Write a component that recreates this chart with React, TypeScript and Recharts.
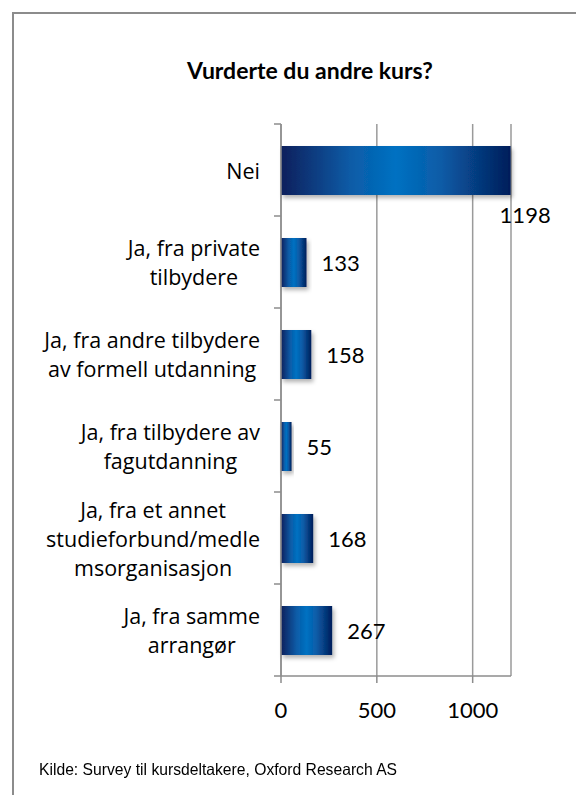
import React from 'react';
import { BarChart, Bar, XAxis, YAxis, CartesianGrid, LabelList } from 'recharts';

// data
const categoryLines: string[][] = [
  ['Nei'],
  ['Ja, fra private', 'tilbydere'],
  ['Ja, fra andre tilbydere', 'av formell utdanning'],
  ['Ja, fra tilbydere av', 'fagutdanning'],
  ['Ja, fra et annet', 'studieforbund/medle', 'msorganisasjon'],
  ['Ja, fra samme', 'arrangør'],
];
const categories = categoryLines.map((l) => l.join(' '));
const values = [1198, 133, 158, 55, 168, 267];
const xTicks = [0, 500, 1000];
const xDomain = [0, 1200];

const data = categories.map((name, i) => ({ name, antall: values[i] }));

const W = 576;
const H = 795;
const PLOT_LEFT = 281;
const PLOT_TOP = 124;
const PLOT_BOTTOM = 676;
const PLOT_RIGHT = 511;
const BAND = (PLOT_BOTTOM - PLOT_TOP) / categories.length;
const FONT = 'Lato, "Open Sans", sans-serif';
const LABEL_FONT = '"Open Sans", Lato, sans-serif';
const LABEL_SIZE = 21.5;

let ctx: CanvasRenderingContext2D | null = null;
function textWidth(s: string, font: string) {
  if (!ctx) ctx = document.createElement('canvas').getContext('2d');
  if (!ctx) return s.length * 10;
  ctx.font = font;
  return ctx.measureText(s).width;
}

function CategoryTick(props: any) {
  const { y, payload } = props;
  const idx = categories.indexOf(payload.value);
  const lines = categoryLines[idx] || [String(payload.value)];
  const maxW = Math.max(...lines.map((l) => textWidth(l, `${LABEL_SIZE}px "Open Sans"`)));
  const cx = PLOT_LEFT - 21 - maxW / 2;
  const lh = 29;
  const top = y - ((lines.length - 1) * lh) / 2;
  return (
    <g>
      <line x1={PLOT_LEFT - 7} x2={PLOT_LEFT} y1={y - BAND / 2} y2={y - BAND / 2} stroke="#8c8c8c" strokeWidth={1.5} />
      {idx === categories.length - 1 && (
        <line x1={PLOT_LEFT - 7} x2={PLOT_LEFT} y1={y + BAND / 2} y2={y + BAND / 2} stroke="#8c8c8c" strokeWidth={1.5} />
      )}
      {lines.map((l, i) => (
        <text key={i} x={cx} y={top + i * lh} textAnchor="middle" dominantBaseline="central"
          fontFamily={LABEL_FONT} fontSize={LABEL_SIZE} fill="#000">
          {l}
        </text>
      ))}
    </g>
  );
}

function ValueLabel(props: any) {
  const { x, y, width, height, value } = props;
  const end = x + width;
  // Excel pushes the label under the bar when it does not fit on the right
  if (end > PLOT_RIGHT - 40) {
    return (
      <text x={end - 11} y={y + height + 19} dominantBaseline="central" fontFamily={FONT} fontSize={22} fill="#000">
        {value}
      </text>
    );
  }
  return (
    <text x={end + 15} y={y + height / 2} dominantBaseline="central" fontFamily={FONT} fontSize={22} fill="#000">
      {value}
    </text>
  );
}

export default function App() {
  return (
    <div style={{ position: 'absolute', left: 0, top: 0, width: W, height: H, overflow: 'hidden', background: '#fff' }}>
      <div style={{ position: 'absolute', left: 12, top: 12, width: 640, height: 900, border: '2px solid #8c8c8c', boxSizing: 'border-box' }} />
      <div style={{ position: 'absolute', left: 0, width: 620, top: 56, textAlign: 'center', fontFamily: FONT, fontWeight: 'bold', fontSize: 23 }}>
        Vurderte du andre kurs?
      </div>
      <div style={{ position: 'absolute', left: 0, top: 0 }}>
        <BarChart width={W} height={H} data={data} layout="vertical"
          margin={{ top: PLOT_TOP, right: W - PLOT_RIGHT, bottom: H - PLOT_BOTTOM - 40, left: 0 }}>
          <defs>
            <linearGradient id="barFill" x1="0" y1="0" x2="1" y2="0">
              <stop offset="0%" stopColor="#0a1f5c" />
              <stop offset="30%" stopColor="#0a5ba6" />
              <stop offset="50%" stopColor="#0071c2" />
              <stop offset="70%" stopColor="#0a5ba6" />
              <stop offset="100%" stopColor="#021d5a" />
            </linearGradient>
            <filter id="shadow" x="-10%" y="-10%" width="130%" height="140%">
              <feDropShadow dx="2" dy="3" stdDeviation="2" floodColor="#000" floodOpacity="0.3" />
            </filter>
          </defs>
          <CartesianGrid horizontal={false} stroke="#9a9a9a" strokeWidth={1.5} />
          <XAxis type="number" domain={xDomain} ticks={xTicks} height={40} tickSize={7} tickMargin={19}
            axisLine={{ stroke: '#8c8c8c', strokeWidth: 1.5 }} tickLine={{ stroke: '#8c8c8c', strokeWidth: 1.5 }}
            tick={{ fontFamily: FONT, fontSize: 22, fill: '#000' }} />
          <YAxis type="category" dataKey="name" width={PLOT_LEFT} tickLine={false} interval={0}
            axisLine={{ stroke: '#8c8c8c', strokeWidth: 1.5 }} tick={<CategoryTick />} />
          <Bar dataKey="antall" fill="url(#barFill)" barSize={49} filter="url(#shadow)" isAnimationActive={false}>
            <LabelList dataKey="antall" content={<ValueLabel />} />
          </Bar>
        </BarChart>
      </div>
      <div style={{ position: 'absolute', left: 39, top: 760, fontFamily: '"Liberation Sans", Arial, sans-serif', fontSize: 16.5, color: '#000', whiteSpace: 'nowrap', transform: 'scaleX(0.95)', transformOrigin: 'left center' }}>
        Kilde: Survey til kursdeltakere, Oxford Research AS
      </div>
    </div>
  );
}
